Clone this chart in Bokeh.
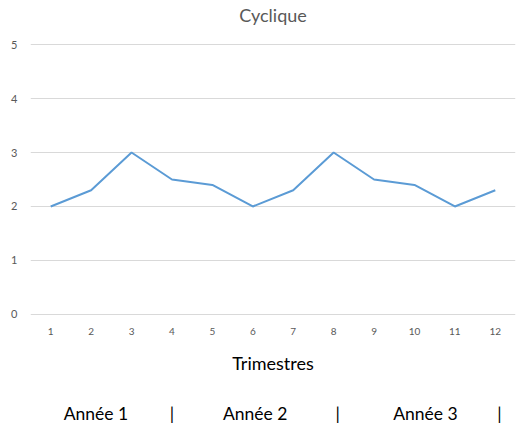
from bokeh.embed import file_html
from bokeh.resources import INLINE
from bokeh.models import ColumnDataSource, FixedTicker, LinearAxis, Range1d
from bokeh.plotting import figure

# quarterly values
quarters = [1, 2, 3, 4, 5, 6, 7, 8, 9, 10, 11, 12]
values = [2, 2.3, 3, 2.5, 2.4, 2, 2.3, 3, 2.5, 2.4, 2, 2.3]
y_ticks = [0, 1, 2, 3, 4, 5]
year_labels = ["Année 1", "|", "Année 2", "|", "Année 3", "|"]
chart_title = "Cyclique"

FONT = "Lato"
GREY = "#595959"

source = ColumnDataSource(dict(q=quarters, v=values))

p = figure(width=520, height=430, output_backend="svg", toolbar_location=None,
           x_range=Range1d(0.5, 12.5), y_range=Range1d(-0.02, 5.02),
           min_border_left=30, min_border_right=5, min_border_top=43,
           min_border_bottom=115)
p.outline_line_color = None
p.background_fill_color = "white"
p.border_fill_color = "white"

p.line(x='q', y='v', source=source, line_color="#5B9BD5", line_width=2)


def plain_axis(ax):
    ax.axis_line_color = None
    ax.major_tick_line_color = None
    ax.minor_tick_line_color = None
    ax.major_tick_out = 0
    ax.major_label_text_font = FONT


# axes styled like a spreadsheet chart
p.xaxis.ticker = FixedTicker(ticks=quarters)
p.yaxis.ticker = FixedTicker(ticks=y_ticks)
for ax in (p.xaxis, p.yaxis):
    plain_axis(ax)
    ax.major_label_text_color = GREY
p.xaxis.major_label_text_font_size = "10px"
p.yaxis.major_label_text_font_size = "11px"
p.xaxis.major_label_standoff = 12
p.yaxis.major_label_standoff = 13

p.xaxis.axis_label = "Trimestres"
p.xaxis.axis_label_text_font = FONT
p.xaxis.axis_label_text_font_style = "normal"
p.xaxis.axis_label_text_font_size = "18px"
p.xaxis.axis_label_text_color = "black"
p.xaxis.axis_label_text_line_height = 1.0
p.xaxis.axis_label_standoff = 14

# year row below the axis title
year_pos = [2.12, 4.0, 6.06, 8.1, 10.27, 12.1]
year_axis = LinearAxis(ticker=FixedTicker(ticks=year_pos),
                       major_label_overrides=dict(zip(year_pos, year_labels)))
plain_axis(year_axis)
year_axis.major_label_text_font_size = "17.5px"
year_axis.major_label_text_color = "black"
year_axis.major_label_text_line_height = 1.0
year_axis.major_label_standoff = 26
p.add_layout(year_axis, "below")

# chart title, set as the label of an empty top axis
title_axis = LinearAxis(ticker=FixedTicker(ticks=[]), axis_label=chart_title)
plain_axis(title_axis)
title_axis.axis_label_text_font = FONT
title_axis.axis_label_text_font_style = "normal"
title_axis.axis_label_text_font_size = "18px"
title_axis.axis_label_text_color = GREY
title_axis.axis_label_text_line_height = 1.0
title_axis.axis_label_standoff = 18
p.add_layout(title_axis, "above")

p.xgrid.grid_line_color = None
p.ygrid.grid_line_color = "#D9D9D9"
p.ygrid.grid_line_width = 1

open("out.html", "w").write(file_html(p, INLINE))
